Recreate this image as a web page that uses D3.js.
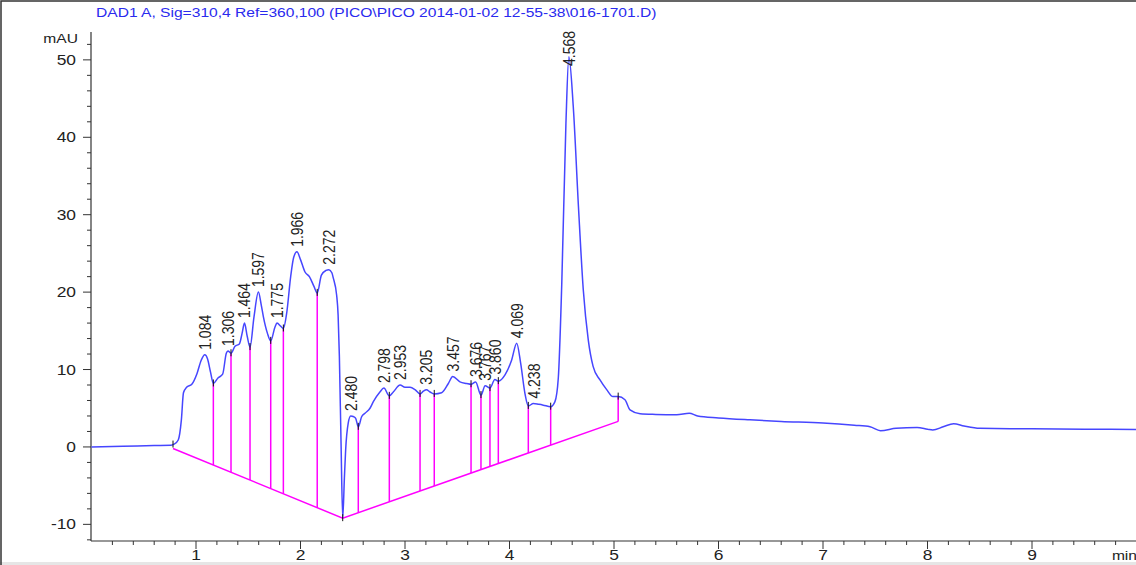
<!DOCTYPE html>
<html lang="en">
<head>
    <meta charset="UTF-8">
    <title>DAD1 A chromatogram</title>
    <script src="https://d3js.org/d3.v7.min.js"></script>
    <style>
        body { margin: 0; background: #fff; }
        svg { display: block; }
        text { font-family: "Liberation Sans", Arial, sans-serif; }
    </style>
</head>
<body>
    <div id="chart"></div>

    <script>
        // signal trace (min, mAU)
        const times = [0.00, 0.30, 0.60, 0.76, 0.79, 0.83, 0.86, 0.88, 0.91, 0.96, 1.01, 1.05, 1.084, 1.11, 1.14, 1.166,
            1.21, 1.255, 1.29, 1.306, 1.335, 1.373, 1.415, 1.44, 1.464, 1.49, 1.517, 1.555, 1.597, 1.625, 1.645, 1.683,
            1.715, 1.756, 1.775, 1.81, 1.836, 1.868, 1.906, 1.935, 1.966, 2.00, 2.043, 2.085, 2.13, 2.16, 2.20, 2.244,
            2.272, 2.30, 2.314, 2.346, 2.36, 2.372, 2.388, 2.404, 2.42, 2.432, 2.457, 2.48, 2.51, 2.528, 2.553, 2.585,
            2.617, 2.665, 2.697, 2.76, 2.798, 2.85, 2.888, 2.953, 3.00, 3.048, 3.096, 3.144, 3.175, 3.205, 3.24, 3.28,
            3.35, 3.415, 3.457, 3.526, 3.59, 3.632, 3.676, 3.727, 3.767, 3.813, 3.86, 3.893, 3.957, 4.02, 4.069, 4.107,
            4.148, 4.18, 4.228, 4.28, 4.323, 4.394, 4.435, 4.467, 4.50, 4.54, 4.568, 4.61, 4.66, 4.706, 4.754, 4.80,
            4.866, 4.93, 4.99, 5.04, 5.105, 5.153, 5.25, 5.40, 5.60, 5.72, 5.80, 6.00, 6.30, 6.60, 7.00, 7.30, 7.45,
            7.55, 7.70, 7.90, 8.00, 8.05, 8.15, 8.25, 8.35, 8.50, 9.00, 9.50, 10.0];
        const signal = [0.00, 0.08, 0.18, 0.22, 0.35, 0.9, 3.5, 7.0, 7.7, 8.1, 9.5, 11.2, 11.9, 11.4, 9.6, 8.2,
            8.9, 9.4, 12.1, 12.4, 12.1, 13.0, 13.3, 14.6, 16.0, 14.3, 12.9, 16.8, 20.0, 18.3, 16.8, 14.7,
            13.7, 15.5, 16.0, 15.6, 15.3, 17.3, 22.0, 24.5, 25.2, 24.2, 22.6, 22.0, 20.7, 19.9, 22.2, 22.8,
            22.9, 22.5, 21.8, 19.6, 17.0, 11.7, 0.5, -9.2, -4.0, -0.4, 3.1, 4.0, 3.9, 3.7, 2.6, 3.9,
            4.35, 5.0, 5.85, 7.1, 7.6, 6.6, 7.1, 8.0, 7.7, 7.7, 7.4, 6.85, 7.2, 7.4, 7.1, 6.85,
            7.0, 8.2, 9.1, 8.4, 8.2, 8.1, 8.4, 6.7, 7.9, 7.6, 8.7, 8.5, 9.3, 11.2, 13.4, 10.8,
            6.9, 5.3, 5.6, 5.5, 5.4, 5.2, 5.85, 8.9, 21.0, 41.8, 50.4, 44.0, 31.0, 20.3, 13.8, 10.4,
            8.65, 7.4, 6.5, 6.5, 6.1, 4.8, 4.3, 4.2, 4.15, 4.35, 4.0, 3.75, 3.5, 3.3, 3.1, 2.8, 2.6,
            2.1, 2.4, 2.5, 2.3, 2.2, 2.6, 3.0, 2.7, 2.4, 2.35, 2.3, 2.25];

        // labelled peaks
        const peakTimes = [1.084, 1.306, 1.464, 1.597, 1.775, 1.966, 2.272, 2.480, 2.798, 2.953, 3.205, 3.457,
            3.676, 3.767, 3.860, 4.069, 4.238, 4.568];
        const peakHeights = [11.9, 12.4, 16.0, 20.0, 16.0, 25.2, 22.9, 4.0, 7.6, 8.0, 7.4, 9.1,
            8.4, 7.9, 8.7, 13.4, 5.6, 50.4];

        // integration baseline
        const baseTimes = [0.78, 2.404, 5.04];
        const baseValues = [-0.2, -9.2, 3.3];
        const dropTimes = [1.166, 1.335, 1.517, 1.715, 1.836, 2.16, 2.553, 2.85, 3.144, 3.28, 3.632, 3.727,
            3.813, 3.893, 4.18, 4.394, 5.04];
        const markTimes = [0.78, 1.166, 1.335, 1.517, 1.715, 1.836, 2.16, 2.404, 2.553, 2.85, 3.144, 3.28, 3.632,
            3.727, 3.813, 3.893, 4.18, 4.394, 5.04];

        const xTicks = [1, 2, 3, 4, 5, 6, 7, 8, 9];
        const yTicks = [-10, 0, 10, 20, 30, 40, 50];

        const W = 1136, H = 565;
        const SX = 1.2; // text looks stretched sideways in the original
        const svg = d3.select("#chart").append("svg").attr("width", W).attr("height", H);

        const x = d3.scaleLinear().domain([0, 10]).range([91.5, 1136.5]);
        const y = d3.scaleLinear().domain([-12.15, 53.6]).range([541, 32]);

        const interp = function(arrT, arrV, t) {
            const i = d3.bisectLeft(arrT, t);
            if (i <= 0) return arrV[0];
            if (i >= arrT.length) return arrV[arrT.length - 1];
            const t0 = arrT[i - 1], t1 = arrT[i];
            return arrV[i - 1] + (arrV[i] - arrV[i - 1]) * (t - t0) / (t1 - t0);
        };

        // horizontal text, stretched
        const label = function(parent, tx, ty, str, anchor, size, color) {
            parent.append("g")
                .attr("transform", "translate(" + tx + "," + ty + ") scale(" + SX + ",1)")
                .append("text")
                .attr("text-anchor", anchor)
                .attr("fill", color)
                .style("font-size", size + "px")
                .text(str);
        };

        // outer frame + bottom strip
        svg.append("rect").attr("x", 0).attr("y", 562).attr("width", W).attr("height", 3).attr("fill", "#e6e6e6");
        svg.append("path").attr("d", "M1,565V1H1136").attr("fill", "none").attr("stroke", "#333").attr("stroke-width", 1.5);

        // title
        label(svg, 96, 17, "DAD1 A, Sig=310,4 Ref=360,100 (PICO\\PICO 2014-01-02 12-55-38\\016-1701.D)", "start", 13, "#2a2aee");

        // axes
        const minorY = d3.range(-12, 53, 2).filter(function(d) { return d % 10 !== 0; });
        const yAxis = svg.append("g").attr("transform", "translate(91,0)");
        yAxis.append("line").attr("y1", 32).attr("y2", 541).attr("stroke", "#333").attr("stroke-width", 1.2);
        yAxis.selectAll(".ymin").data(minorY).enter().append("line")
            .attr("x1", -4).attr("x2", 0)
            .attr("y1", function(d) { return y(d); }).attr("y2", function(d) { return y(d); })
            .attr("stroke", "#333");
        yAxis.selectAll(".ymaj").data(yTicks).enter().append("line")
            .attr("x1", -8).attr("x2", 0)
            .attr("y1", function(d) { return y(d); }).attr("y2", function(d) { return y(d); })
            .attr("stroke", "#333");
        yTicks.forEach(function(d) {
            label(yAxis, -15, y(d) + 5, d, "end", 14.5, "#222");
        });
        label(yAxis, -13, 43, "mAU", "end", 13, "#222");

        const minorX = d3.range(1, 50).map(function(i) { return i / 5; }).filter(function(d, i) { return (i + 1) % 5 !== 0; });
        const xAxis = svg.append("g").attr("transform", "translate(0,541)");
        xAxis.append("line").attr("x1", 91).attr("x2", W).attr("stroke", "#333").attr("stroke-width", 1.2);
        xAxis.selectAll(".xmin").data(minorX).enter().append("line")
            .attr("x1", function(d) { return x(d); }).attr("x2", function(d) { return x(d); })
            .attr("y1", 0).attr("y2", 4).attr("stroke", "#333");
        xAxis.selectAll(".xmaj").data(xTicks).enter().append("line")
            .attr("x1", function(d) { return x(d); }).attr("x2", function(d) { return x(d); })
            .attr("y1", 0).attr("y2", 8).attr("stroke", "#333");
        xTicks.forEach(function(d) {
            label(xAxis, x(d), 19, d, "middle", 14.5, "#222");
        });
        label(xAxis, 1137, 19, "min", "end", 13, "#222");

        // baseline and drop lines
        svg.append("path")
            .attr("d", d3.line().x(function(d, i) { return x(baseTimes[i]); }).y(function(d) { return y(d); })(baseValues))
            .attr("fill", "none").attr("stroke", "#ff00ff").attr("stroke-width", 1.5);
        svg.selectAll(".drop").data(dropTimes).enter().append("line")
            .attr("x1", function(d) { return x(d); }).attr("x2", function(d) { return x(d); })
            .attr("y1", function(d) { return y(interp(times, signal, d)); })
            .attr("y2", function(d) { return y(interp(baseTimes, baseValues, d)); })
            .attr("stroke", "#ff00ff").attr("stroke-width", 1.5);

        // trace
        const line = d3.line()
            .x(function(d, i) { return x(times[i]); })
            .y(function(d) { return y(d); })
            .curve(d3.curveMonotoneX);
        svg.append("path").attr("d", line(signal))
            .attr("fill", "none").attr("stroke", "#4646ff").attr("stroke-width", 1.5);

        // start/end marks
        svg.selectAll(".mark").data(markTimes).enter().append("line")
            .attr("x1", function(d) { return x(d); }).attr("x2", function(d) { return x(d); })
            .attr("y1", function(d) { return y(interp(times, signal, d)) - 4; })
            .attr("y2", function(d) { return y(interp(times, signal, d)) + 3; })
            .attr("stroke", "#111").attr("stroke-width", 1);

        // peak labels
        svg.selectAll(".plab").data(peakTimes).enter().append("text")
            .attr("transform", function(d, i) {
                let by = y(peakHeights[i]) - 5;
                if (by - 36 < 30) by = 30 + 36;
                return "translate(" + (x(d) + 6) + "," + by + ") scale(" + SX + ",1) rotate(-90)";
            })
            .attr("fill", "#222")
            .style("font-size", "14px")
            .text(function(d) { return d.toFixed(3); });
    </script>
</body>
</html>
